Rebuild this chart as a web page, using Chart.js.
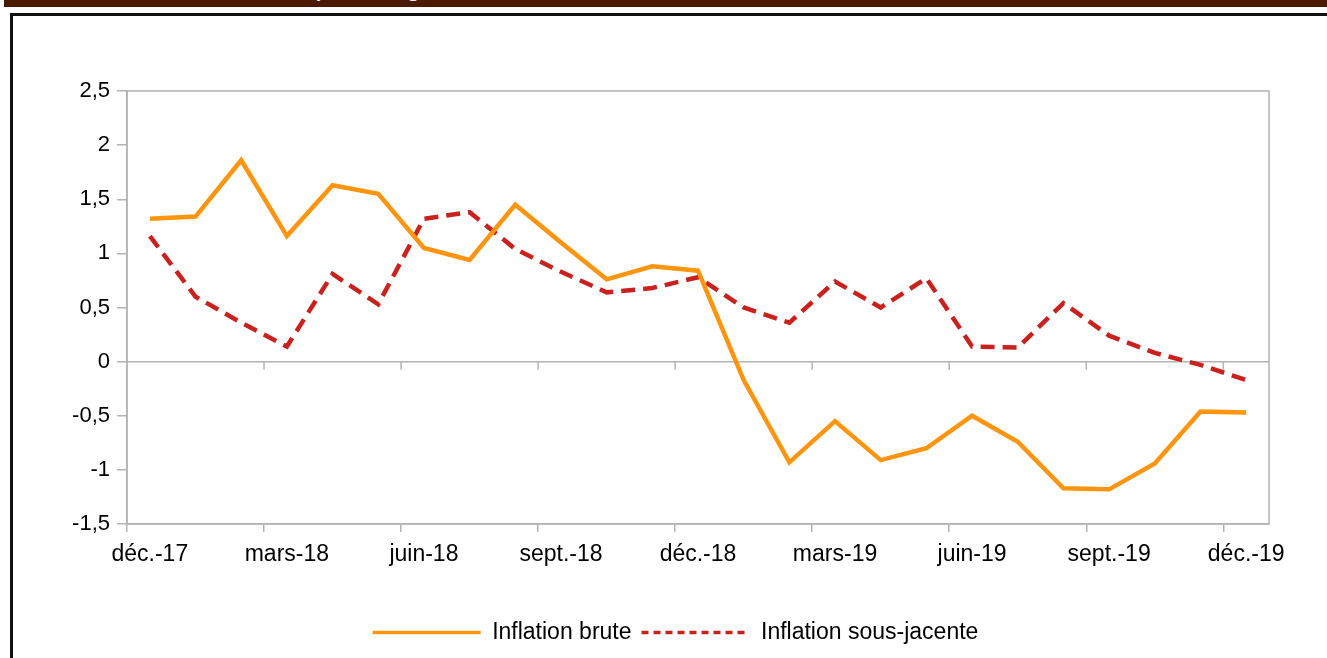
<!DOCTYPE html>
<html lang="fr">
<head>
<meta charset="utf-8">
<title>Inflation brute et sous-jacente</title>
<script src="https://cdn.jsdelivr.net/npm/chart.js@4.4.1/dist/chart.umd.min.js"></script>
<style>
  html, body { margin: 0; padding: 0; background: #fff; overflow: hidden; }
  body { width: 1327px; height: 658px; position: relative; }
  .bar {
    position: absolute; left: 4px; top: 0; right: 0; height: 7px;
    background: #4b1900; overflow: hidden;
  }
  .bar span {
    position: absolute; left: 0; top: -19px;
    font: bold 18px/18px "Open Sans", "DejaVu Sans", sans-serif;
    color: #fff; white-space: nowrap;
  }
  .box {
    position: absolute; left: 10px; top: 13px; width: 1400px; height: 700px;
    border: 3px solid #111; background: #fff;
  }
  .chart-wrap { position: absolute; left: 0; top: 0; width: 1314px; height: 642px; }
</style>
</head>
<body>
<div class="bar"><span>(variation annuelle des indices, en pourcentage)</span></div>
<div class="box">
  <div class="chart-wrap"><canvas id="inflationChart"></canvas></div>
</div>

<script>
const months = ['déc.-17', 'janv.-18', 'févr.-18', 'mars-18', 'avr.-18', 'mai-18', 'juin-18',
  'juil.-18', 'août-18', 'sept.-18', 'oct.-18', 'nov.-18', 'déc.-18', 'janv.-19', 'févr.-19',
  'mars-19', 'avr.-19', 'mai-19', 'juin-19', 'juil.-19', 'août-19', 'sept.-19', 'oct.-19',
  'nov.-19', 'déc.-19'];

const inflationBrute = [1.32, 1.34, 1.86, 1.16, 1.63, 1.55, 1.05, 0.94, 1.45, 1.10, 0.76, 0.88,
  0.84, -0.17, -0.93, -0.55, -0.91, -0.80, -0.50, -0.74, -1.17, -1.18, -0.94, -0.46, -0.47];

const inflationSousJacente = [1.16, 0.60, 0.36, 0.14, 0.81, 0.53, 1.32, 1.38, 1.04, 0.83, 0.64, 0.68,
  0.78, 0.50, 0.36, 0.74, 0.50, 0.77, 0.14, 0.13, 0.54, 0.24, 0.08, -0.03, -0.17];

const yMin = -1.5;
const yMax = 2.5;
const yStep = 0.5;

const GRAY = '#b3b3b3';
const ORANGE = '#ff950e';
const RED = '#c9211e';

Chart.defaults.font.family = '"Liberation Sans", Arial, sans-serif';
Chart.defaults.color = '#000';

// frame around the plot + small ticks hanging under the zero line
const framePlugin = {
  id: 'frame',
  beforeDatasetsDraw(chart) {
    const { ctx, chartArea, scales } = chart;
    const x = scales.x;
    const y0 = scales.y.getPixelForValue(0);
    const half = (x.getPixelForValue(1) - x.getPixelForValue(0)) / 2;

    ctx.save();
    ctx.strokeStyle = GRAY;
    ctx.lineWidth = 1.5;
    ctx.strokeRect(chartArea.left, chartArea.top, chartArea.right - chartArea.left, chartArea.bottom - chartArea.top);

    ctx.beginPath();
    ctx.moveTo(chartArea.left, y0);
    ctx.lineTo(chartArea.right, y0);
    for (let i = 3; i < months.length; i += 3) {
      const px = x.getPixelForValue(i) - half;
      ctx.moveTo(px, y0);
      ctx.lineTo(px, y0 + 8);
    }
    ctx.stroke();
    ctx.restore();
  }
};

const data = {
  labels: months,
  datasets: [
    {
      label: 'Inflation brute',
      data: inflationBrute,
      borderColor: ORANGE,
      backgroundColor: ORANGE,
      borderWidth: 4.5,
      pointRadius: 0,
      tension: 0,
    },
    {
      label: 'Inflation sous-jacente',
      data: inflationSousJacente,
      borderColor: RED,
      backgroundColor: RED,
      borderWidth: 4.5,
      borderDash: [14, 8],
      pointRadius: 0,
      tension: 0,
    },
  ],
};

const options = {
  responsive: true,
  maintainAspectRatio: false,
  animation: false,
  layout: { padding: { left: 40, right: 29, top: 75, bottom: 4 } },
  scales: {
    x: {
      type: 'category',
      offset: true,
      afterFit: (scale) => { scale.height = 87; },
      grid: {
        offset: true,
        drawOnChartArea: false,
        tickLength: 8,
        lineWidth: 1.5,
        color: (ctx) => (ctx.index !== undefined && ctx.index % 3 === 0 ? GRAY : 'transparent'),
      },
      border: { color: GRAY, width: 1.5 },
      ticks: {
        autoSkip: false,
        maxRotation: 0,
        padding: 9,
        font: { size: 23 },
        callback: (value, index) => (index % 3 === 0 ? months[index] : ''),
      },
    },
    y: {
      min: yMin,
      max: yMax,
      afterFit: (scale) => { scale.width = 74; },
      grid: {
        color: 'transparent',
        tickColor: GRAY,
        tickLength: 10,
        lineWidth: 1.5,
      },
      border: { color: GRAY, width: 1.5 },
      ticks: {
        stepSize: yStep,
        padding: 7,
        font: { size: 22 },
        callback: (value) => String(value).replace('.', ','),
      },
    },
    // empty right axis, only keeps some room on the right side
    y2: {
      position: 'right',
      afterFit: (scale) => { scale.width = 29; },
      grid: { display: false, drawTicks: false },
      border: { display: false },
      ticks: { display: false },
    },
  },
  plugins: {
    tooltip: { enabled: false },
    legend: {
      position: 'bottom',
      labels: {
        usePointStyle: true,
        pointStyle: 'line',
        pointStyleWidth: 108,
        padding: 10,
        font: { size: 23 },
        generateLabels: (chart) => {
          const items = Chart.defaults.plugins.legend.labels.generateLabels(chart);
          items.forEach((item, i) => {
            item.lineWidth = 3.5;
            item.lineDash = i === 1 ? [7, 5] : [];
          });
          return items;
        },
      },
    },
  },
};

new Chart(document.getElementById('inflationChart').getContext('2d'), {
  type: 'line',
  data: data,
  options: options,
  plugins: [framePlugin],
});
</script>
</body>
</html>
